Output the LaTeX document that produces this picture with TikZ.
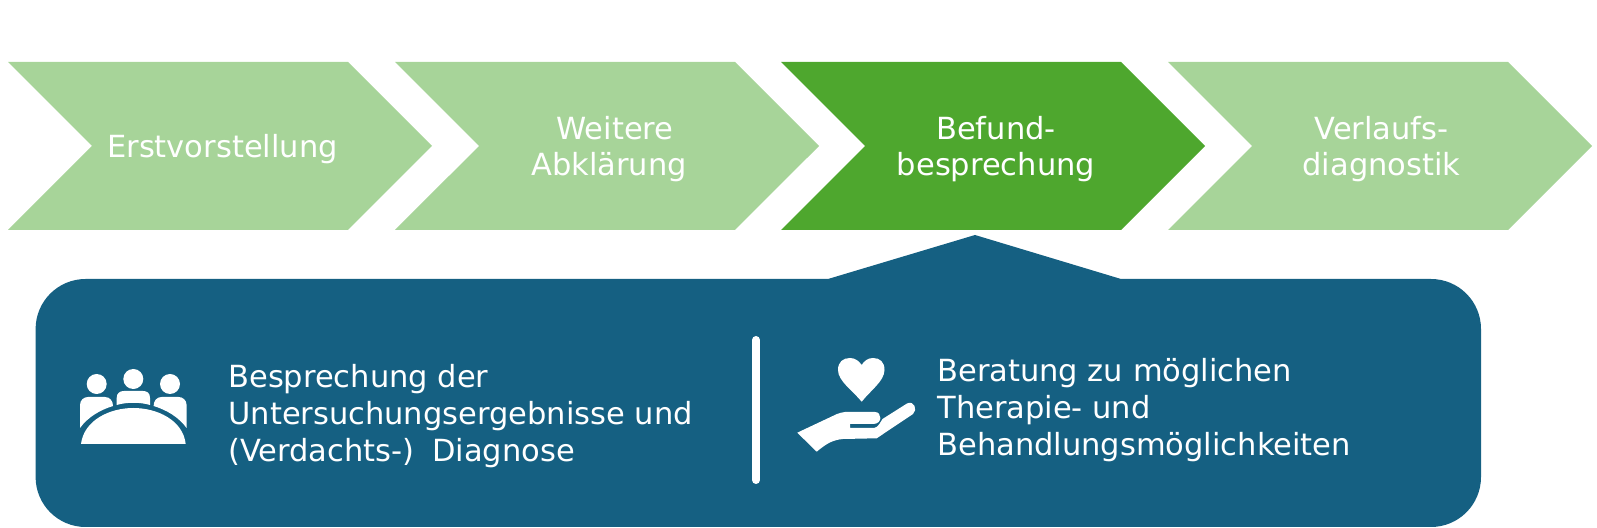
\documentclass[tikz,border=0pt]{standalone}
\usepackage{fontspec}
\setmainfont{DejaVu Sans}
\usetikzlibrary{shapes.symbols}
\definecolor{lightgreen}{HTML}{A7D499}
\definecolor{darkgreen}{HTML}{4EA72E}
\definecolor{panelblue}{HTML}{156082}
\tikzset{%
  phase/.style = {shape=signal, signal from=west, signal to=east, signal pointer angle=90,%
                  minimum width=212pt, minimum height=84pt, inner sep=0pt, outer sep=0pt,%
                  fill=lightgreen},%
  active/.style = {phase, fill=darkgreen},%
  phasetext/.style = {text=white, align=center, inner sep=0pt,%
                      font=\fontsize{15.25}{17.8}\selectfont},%
  info/.style = {text=white, align=left, anchor=west, inner sep=0pt,%
                 font=\fontsize{15.25}{18.3}\selectfont},%
  icon/.style = {fill=white, draw=none}%
}
\begin{document}
\begin{tikzpicture}[x=0.5pt,y=-0.5pt]
	\useasboundingbox (0,0) rectangle (1597,528);
	\node [phase] (erst) at (220,146) {};
	\node [phase] (weitere) at (607,146) {};
	\node [active] (befund) at (993,146) {};
	\node [phase] (verlauf) at (1380,146) {};
	\node [phasetext] (ersttext) at (222.5,149.5) {Erstvorstellung};
	\node [phasetext] (weiteretext) at (609,149) {\hspace*{6pt}Weitere\\Abklärung};
	\node [phasetext] (befundtext) at (996,149) {Befund-\\besprechung};
	\node [phasetext] (verlauftext) at (1381.5,149) {Verlaufs-\\diagnostik};
	% panel with pointer
	\fill [panelblue] (828,279) -- (975,235) -- (1121,279) -- (1431,279)
		arc (-90:0:50) -- (1481,477) arc (0:90:50) -- (85.6,527)
		arc (90:180:50) -- (35.6,329) arc (180:270:50) -- cycle;
	\draw [white, line width=4pt, line cap=round] (756,340) -- (756,480);
	\node [info] (befunde) at (228,416) {Besprechung der\\Untersuchungsergebnisse und\\(Verdachts-)\hspace{4pt} Diagnose};
	\node [info] (beratung) at (937,410) {Beratung zu möglichen\\Therapie- und\\Behandlungsmöglichkeiten};
	% people
	\foreach \x/\y in {96.7/384, 133.3/379, 170/384}
		\fill [icon] (\x,\y) circle (10);
	\fill [icon] (81,444) .. controls (84,420) and (110,408) .. (133.3,408)
		.. controls (157,408) and (183,420) .. (185.7,444) -- cycle;
	\fill [icon] (80,428) -- (80,405) .. controls (80,400) and (84,397) .. (88,397)
		-- (105,397) .. controls (110,397) and (113,401) .. (113,406)
		.. controls (100,410) and (88,417) .. (80,428) -- cycle;
	\fill [icon] (186.6,428) -- (186.6,405) .. controls (186.6,400) and (182.6,397) .. (178.6,397)
		-- (161.6,397) .. controls (156.6,397) and (153.6,401) .. (153.6,406)
		.. controls (166.6,410) and (178.6,417) .. (186.6,428) -- cycle;
	\fill [icon] (116.7,405) -- (116.7,398) .. controls (116.7,393) and (120,391) .. (124,391)
		-- (143,391) .. controls (147,391) and (150,393) .. (150,398)
		-- (150,405) .. controls (140,402) and (127,402) .. (116.7,405) -- cycle;
	% heart and hand
	\fill [icon] (861.7,401.7) .. controls (853,391) and (838,381) .. (838,370)
		.. controls (838,362) and (843,358) .. (850,358)
		.. controls (855,358) and (859,361) .. (861.7,365)
		.. controls (864,361) and (868,358) .. (873,358)
		.. controls (880,358) and (884.5,362) .. (884.5,370)
		.. controls (884.5,381) and (870,391) .. (861.7,401.7) -- cycle;
	\fill [icon] (797.3,432.7) -- (837,414) .. controls (839,413.5) and (842,412) .. (845,412)
		-- (875,412) .. controls (882,412) and (883,424) .. (873,424)
		-- (850,424) -- (850,428) -- (874,428) .. controls (878,428) and (881,421) .. (882.5,419)
		-- (907,403.5) .. controls (914,400) and (918,410) .. (913,414)
		-- (876.7,438.3) -- (843,439) .. controls (832,440) and (826,444) .. (816.7,451.7) -- cycle;
\end{tikzpicture}
\end{document}
